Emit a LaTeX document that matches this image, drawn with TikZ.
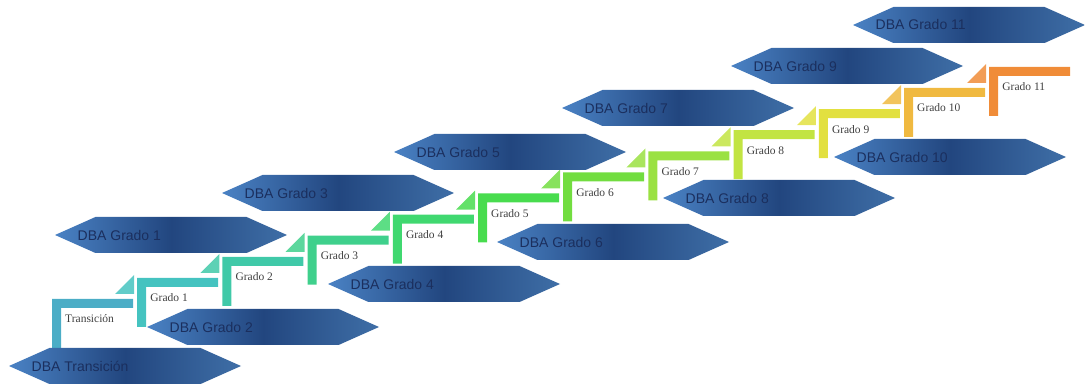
\documentclass[tikz,border=0pt]{standalone}
\usepackage{fontspec}
\setmainfont{Liberation Serif}
\newfontfamily\dbafont{Liberation Sans}
\usetikzlibrary{shapes.symbols,positioning}

\definecolor{escalon0}{HTML}{4BADC6}
\definecolor{escalon1}{HTML}{45C3C0}
\definecolor{escalon2}{HTML}{40C9A8}
\definecolor{escalon3}{HTML}{3FD08C}
\definecolor{escalon4}{HTML}{40D870}
\definecolor{escalon5}{HTML}{48DC4E}
\definecolor{escalon6}{HTML}{72DD40}
\definecolor{escalon7}{HTML}{9AE142}
\definecolor{escalon8}{HTML}{C2E442}
\definecolor{escalon9}{HTML}{E2E040}
\definecolor{escalon10}{HTML}{F0B940}
\definecolor{escalon11}{HTML}{F08C38}
\definecolor{dbaclaro}{HTML}{4A82C4}
\definecolor{dbaoscuro}{HTML}{22467F}
\definecolor{dbatexto}{HTML}{1B2F5E}

\begin{document}
\begin{tikzpicture}[x=1pt,y=-1pt]
\def \pasox {85.2}
\def \pasoy {21.1}
\def \grosor {9}
   \tikzset{DBAStyle/.style = {shape = signal, signal to = west and east, signal pointer angle = 48,
      minimum width = 232pt, minimum height = 36pt, inner sep = 0pt,
      left color = dbaclaro, right color = dbaclaro!85!black, middle color = dbaoscuro}}
   \tikzset{DBALabel/.style = {font = \dbafont\fontsize{14}{16}\selectfont, text = dbatexto, inner sep = 0pt}}
   \tikzset{GradoLabel/.style = {font = \fontsize{11.5}{13}\selectfont, text = black!75, anchor = west, inner sep = 0pt}}
\useasboundingbox (0,0) rectangle (1085,387);

% escalones
\foreach \k/\nombre/\largo in {0/Transición/56,1/Grado 1/49,2/Grado 2/49,3/Grado 3/49,4/Grado 4/49,
      5/Grado 5/49,6/Grado 6/49,7/Grado 7/49,8/Grado 8/49,9/Grado 9/49,10/Grado 10/49,11/Grado 11/49}{
   \pgfmathsetmacro{\xx}{52+\k*\pasox}
   \pgfmathsetmacro{\yy}{299-\k*\pasoy}
   \fill[escalon\k] (\xx,\yy) -- ++(81,0) -- ++(0,\grosor) -- ++(-72,0) -- ++(0,\largo-\grosor) -- ++(-\grosor,0) -- cycle;
   \ifnum\k>0
      \fill[escalon\k!85!white] (\xx-3,\yy+\pasoy-5) -- ++(-19,0) -- ++(19,-19) -- cycle;
   \fi
   \node[GradoLabel] (grado\k) at (\xx+13,\yy+20) {\nombre};
}

% DBA
\foreach \n/\x/\y/\texto in {T/125/366/DBA Transición,1/171/235/DBA Grado 1,2/263/327/DBA Grado 2,
      3/338/193/DBA Grado 3,4/444/284/DBA Grado 4,5/510/152/DBA Grado 5,6/613/242/DBA Grado 6,
      7/678/108/DBA Grado 7,8/779/198/DBA Grado 8,9/847/66/DBA Grado 9,10/950/157/DBA Grado 10,
      11/969/25/DBA Grado 11}{
   \node[DBAStyle] (dba\n) at (\x,\y) {};
   \node[DBALabel, anchor = west, right = 23pt of dba\n.west] (txt\n) {\texto};
}
\end{tikzpicture}
\end{document}
